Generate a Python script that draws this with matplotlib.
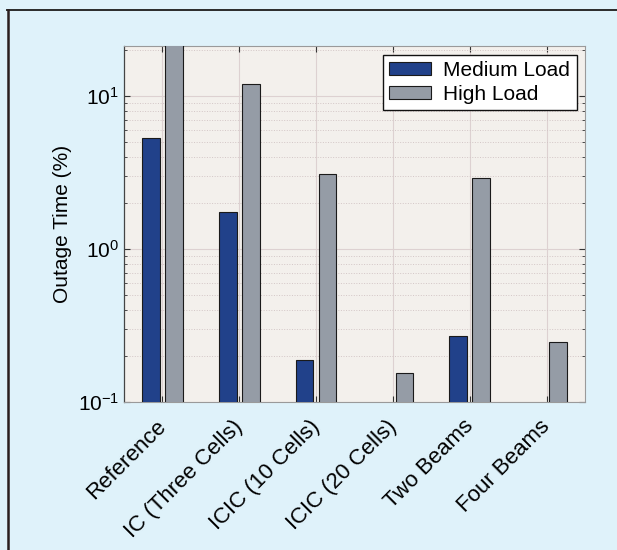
import numpy as np
import matplotlib.pyplot as plt
import matplotlib.transforms as mtransforms
from matplotlib.ticker import LogLocator, NullFormatter

plt.rcParams['font.family'] = ['Liberation Sans', 'DejaVu Sans']
plt.rcParams['mathtext.fontset'] = 'custom'
plt.rcParams['mathtext.rm'] = 'Liberation Sans'
plt.rcParams['mathtext.it'] = 'Liberation Sans:italic'
plt.rcParams['mathtext.bf'] = 'Liberation Sans:bold'

# Outage time per scheme (%), NaN where no outage was observed
schemes = ["Reference", "IC (Three Cells)", "ICIC (10 Cells)",
           "ICIC (20 Cells)", "Two Beams", "Four Beams"]
medium_load = [5.3, 1.76, 0.188, np.nan, 0.27, np.nan]
high_load = [25.0, 12.0, 3.08, 0.155, 2.9, 0.247]

BLUE = "#21418a"
GRAY = "#959ca6"
FIG_BG = "#dff2fa"
AX_BG = "#f3f0ec"
FS = 15

fig = plt.figure(figsize=(6.17, 5.5), dpi=100, facecolor=FIG_BG)
ax = fig.add_axes([0.201, 0.269, 0.747, 0.647], facecolor=AX_BG)

# frame lines along the top and left of the panel
fig.add_artist(plt.Line2D([0.012, 1.0], [0.982, 0.982], color="#2a2a2a", lw=1.4,
                          transform=fig.transFigure))
fig.add_artist(plt.Line2D([0.013, 0.013], [0.0, 0.982], color="#2a1e1e", lw=1.8,
                          transform=fig.transFigure))

x = np.arange(1, len(schemes) + 1)
w = 0.23
ax.bar(x - 0.15, medium_load, w, color=BLUE, edgecolor="#1a1a1a", lw=0.8,
       label="Medium Load", zorder=3)
ax.bar(x + 0.15, high_load, w, color=GRAY, edgecolor="#1a1a1a", lw=0.8,
       label="High Load", zorder=3)

ax.set_yscale("log")
ax.set_ylim(0.1, 21.2)
ax.set_xlim(0.5, 6.5)
ax.yaxis.set_major_locator(LogLocator(base=10, numticks=10))
ax.yaxis.set_minor_locator(LogLocator(base=10, subs=np.arange(2, 10), numticks=10))
ax.yaxis.set_minor_formatter(NullFormatter())

ax.set_xticks(x)
ax.set_xticklabels(schemes, rotation=45, ha="right", rotation_mode="anchor",
                   fontsize=16)

ax.tick_params(axis="y", labelsize=FS)
ax.tick_params(which="both", direction="in", top=True, right=True,
               color="#333333")
ax.tick_params(which="major", length=4, width=0.8)
ax.tick_params(which="minor", length=2, width=0.6)
ax.tick_params(axis="x", pad=10)

ax.grid(True, which="major", color="#ddd1d1", lw=0.8, zorder=0)
ax.grid(True, which="minor", axis="y", color="#d3c6c6", lw=0.7, ls=":", zorder=0)
ax.set_axisbelow(True)

for side in ["top", "right", "bottom"]:
    ax.spines[side].set_color("#9a9a9a")
    ax.spines[side].set_linewidth(0.8)
ax.spines["left"].set_color("#444444")
ax.spines["left"].set_linewidth(0.9)

ax.set_ylabel("Outage Time (%)", fontsize=FS, labelpad=4)

leg = ax.legend(loc="upper right", fontsize=FS, frameon=True, fancybox=False,
                edgecolor="#111111", framealpha=1, handlelength=2.0,
                handleheight=0.6, borderpad=0.3, labelspacing=0.25,
                handletextpad=0.6, borderaxespad=0.4)
leg.get_frame().set_linewidth(1.0)

# nudge the slanted labels a little to the left of their ticks
fig.canvas.draw()
shift = mtransforms.ScaledTranslation(-7 / 100, 0, fig.dpi_scale_trans)
for tick in ax.xaxis.get_major_ticks():
    tick.label1.set_transform(tick.label1.get_transform() + shift)

fig.savefig("out.png", dpi=100, facecolor=FIG_BG)
